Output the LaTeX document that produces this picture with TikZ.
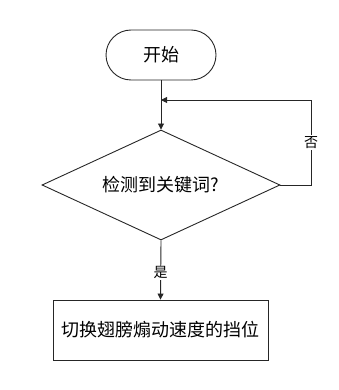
\documentclass[tikz,border=0pt]{standalone}
\usepackage{fontspec}
\setmainfont{Noto Sans CJK SC}
\usetikzlibrary{shapes.geometric,arrows.meta}
\begin{document}
\begin{tikzpicture}[x=1pt,y=-1pt,
  line/.style={draw=black!85, line width=0.9pt},
  arr/.style={line, -{Triangle[length=6pt,width=6pt]}},
  lbl/.style={fill=white, inner sep=1pt, font=\fontsize{14}{16}\selectfont},
  txt/.style={font=\fontsize{18}{20}\selectfont}]
\useasboundingbox (0,0) rectangle (339,390);
\node[line, txt, rounded corners=25pt, minimum width=110pt, minimum height=50pt, inner sep=0pt] (start) at (161,55) {开始};
\node[line, txt, diamond, aspect=2.164, minimum width=238pt, minimum height=110pt, inner sep=0pt] (dec) at (161,185) {检测到关键词?};
\node[line, txt, minimum width=215pt, minimum height=60pt, inner sep=0pt] (act) at (160.5,330) {切换翅膀煽动速度的挡位};
\coordinate (j) at (161,100);
\coordinate (c1) at (311,185);
\coordinate (c2) at (311,100);
\draw[arr] (start.south) -- (dec.north);
\draw[arr] (dec.east) -- (c1) -- node[lbl] {否} (c2) -- (j);
\draw[arr] (dec.south) -- node[lbl, pos=0.55] {是} (act.north);
\end{tikzpicture}
\end{document}
